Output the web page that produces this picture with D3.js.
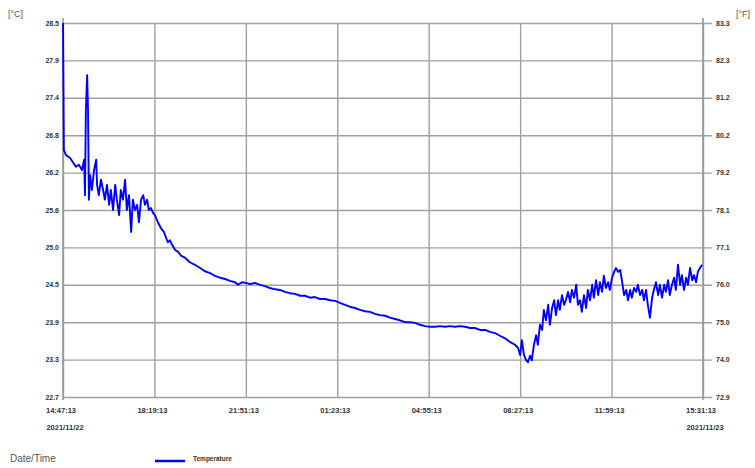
<!DOCTYPE html>
<html>
<head>
<meta charset="utf-8">
<script src="https://cdn.jsdelivr.net/npm/d3@7"></script>
<style>
  body { margin: 0; background: #fff; }
  svg text { font-family: "Liberation Sans", Arial, sans-serif; }
</style>
</head>
<body>
<svg id="chart" width="755" height="468"></svg>
<script>
// minutes since 2021/11/22 14:47:13
var minutes = [0,2,7,16,23,30,37,44,49,51,53,56,58,60,63,67,72,77,79,83,88,93,97,102,107,111,116,121,125,130,134,139,144,148,153,158,162,167,172,176,181,186,190,195,199,204,209,213,220,227,234,239,243,248,253,260,267,274,283,294,306,318,329,341,352,364,376,387,399,406,415,424,434,445,457,468,480,492,503,515,526,538,550,561,573,584,596,608,619,631,642,654,665,677,689,700,712,723,735,747,758,770,781,793,805,816,828,839,851,863,874,886,897,909,921,932,944,955,967,979,990,1002,1013,1025,1037,1048,1055,1060,1064,1069,1074,1078,1083,1087,1092,1097,1101,1106,1111,1115,1120,1125,1129,1134,1139,1143,1148,1152,1157,1162,1166,1171,1176,1180,1185,1190,1194,1199,1203,1208,1213,1217,1222,1227,1231,1236,1241,1245,1250,1254,1259,1264,1268,1273,1278,1282,1287,1292,1296,1301,1306,1310,1315,1319,1324,1329,1333,1338,1343,1347,1352,1356,1361,1366,1370,1375,1380,1384,1389,1394,1398,1403,1407,1412,1417,1421,1426,1431,1435,1440,1445,1449,1454,1459,1463,1468,1472,1477,1482];
var tempC = [28.50,26.53,26.45,26.41,26.34,26.27,26.30,26.22,26.38,25.83,27.15,27.69,27.15,25.76,26.14,25.91,26.22,26.38,25.99,25.83,26.07,25.91,25.76,25.99,25.68,25.91,25.60,25.99,25.76,25.52,25.91,25.76,26.07,25.60,25.83,25.26,25.76,25.60,25.68,25.41,25.76,25.83,25.68,25.76,25.60,25.63,25.55,25.52,25.41,25.32,25.26,25.17,25.10,25.13,25.06,24.98,24.95,24.89,24.86,24.79,24.75,24.70,24.65,24.62,24.58,24.55,24.53,24.50,24.48,24.44,24.48,24.47,24.45,24.47,24.44,24.42,24.39,24.37,24.36,24.33,24.31,24.30,24.27,24.27,24.24,24.25,24.22,24.22,24.20,24.19,24.16,24.13,24.10,24.08,24.05,24.03,24.02,23.99,23.97,23.96,23.93,23.91,23.89,23.86,23.86,23.85,23.82,23.80,23.79,23.79,23.80,23.79,23.80,23.79,23.80,23.79,23.77,23.77,23.74,23.74,23.71,23.69,23.65,23.61,23.55,23.51,23.46,23.35,23.58,23.35,23.27,23.24,23.34,23.27,23.51,23.66,23.51,23.82,23.74,24.05,23.89,24.13,23.82,24.08,24.20,23.97,24.20,24.05,24.28,24.13,24.20,24.33,24.17,24.36,24.24,24.44,24.13,24.20,24.02,24.28,24.08,24.36,24.20,24.44,24.24,24.51,24.28,24.48,24.33,24.58,24.39,24.48,24.36,24.55,24.64,24.70,24.64,24.67,24.51,24.28,24.36,24.20,24.36,24.24,24.39,24.33,24.44,24.28,24.36,24.20,24.36,24.13,23.93,24.24,24.36,24.48,24.28,24.44,24.24,24.44,24.33,24.51,24.28,24.44,24.55,24.36,24.75,24.44,24.59,24.36,24.55,24.44,24.70,24.51,24.59,24.48,24.64,24.70,24.75];

var cTickLabels = ["22.7","23.3","23.9","24.5","25.0","25.6","26.2","26.8","27.4","27.9","28.5"];
var fTickLabels = ["72.9","74.0","75.0","76.0","77.1","78.1","79.2","80.2","81.2","82.3","83.3"];
var timeLabels = ["14:47:13","18:19:13","21:51:13","01:23:13","04:55:13","08:27:13","11:59:13","15:31:13"];
var dateLabels = ["2021/11/22","2021/11/23"];
var seriesName = "Temperature";

var svg = d3.select("#chart"),
    plotL = 63, plotR = 703, plotT = 23, plotB = 397;

var start = new Date(2021, 10, 22, 14, 47, 13);
var end = new Date(start.getTime() + 1484 * 60000);

var x = d3.scaleTime().domain([start, end]).range([plotL, plotR]);
var y = d3.scaleLinear().domain([22.7, 28.5]).range([plotB, plotT]);

var cTicks = cTickLabels.map(function(d, i) { return 22.7 + i * 0.58; });
var tTicks = timeLabels.map(function(d, i) { return new Date(start.getTime() + i * 212 * 60000); });

// horizontal grid, running past the right axis
svg.append("g")
  .attr("transform", "translate(" + plotL + ",0)")
  .call(d3.axisRight(y).tickValues(cTicks).tickSize(712 - plotL).tickFormat(""))
  .call(function(g) { g.select(".domain").remove(); })
  .selectAll("line").attr("stroke", "#a0a0a0").attr("stroke-width", 1.4);

// vertical grid
svg.append("g")
  .attr("transform", "translate(0," + plotT + ")")
  .call(d3.axisBottom(x).tickValues(tTicks).tickSize(plotB - plotT).tickFormat(""))
  .call(function(g) { g.select(".domain").remove(); })
  .selectAll("line").attr("stroke", "#a0a0a0").attr("stroke-width", 1.4);

// axis lines
svg.append("line").attr("x1", plotL).attr("x2", plotL).attr("y1", plotT - 5).attr("y2", plotB + 3)
  .attr("stroke", "#999").attr("stroke-width", 1.6);
svg.append("line").attr("x1", plotR).attr("x2", plotR).attr("y1", plotT - 5).attr("y2", plotB + 3)
  .attr("stroke", "#999").attr("stroke-width", 1.6);

// left labels
svg.append("g").selectAll("text").data(cTickLabels).enter().append("text")
  .attr("x", plotL - 4).attr("y", function(d, i) { return y(cTicks[i]) + 2.5; })
  .attr("text-anchor", "end").attr("font-size", 7).attr("font-weight", "bold").attr("fill", "#333")
  .text(function(d) { return d; });

// right labels
svg.append("g").selectAll("text").data(fTickLabels).enter().append("text")
  .attr("x", 716).attr("y", function(d, i) { return y(cTicks[i]) + 2.5; })
  .attr("font-size", 7).attr("font-weight", "bold").attr("fill", "#333")
  .text(function(d) { return d; });

svg.append("text").attr("x", 8).attr("y", 17).attr("font-size", 9).attr("fill", "#555").text("[°C]");
svg.append("text").attr("x", 736).attr("y", 17).attr("font-size", 9).attr("fill", "#555").text("[°F]");

// time labels
svg.append("g").selectAll("text").data(timeLabels).enter().append("text")
  .attr("x", function(d, i) { return x(tTicks[i]) - 2; }).attr("y", 413)
  .attr("text-anchor", "middle").attr("font-size", 7.5).attr("font-weight", "bold").attr("fill", "#333")
  .text(function(d) { return d; });

svg.append("text").attr("x", plotL + 2).attr("y", 430).attr("text-anchor", "middle")
  .attr("font-size", 7.5).attr("font-weight", "bold").attr("fill", "#333").text(dateLabels[0]);
svg.append("text").attr("x", plotR + 2).attr("y", 430).attr("text-anchor", "middle")
  .attr("font-size", 7.5).attr("font-weight", "bold").attr("fill", "#333").text(dateLabels[1]);

// data line
var data = minutes.map(function(m, i) { return { t: new Date(start.getTime() + m * 60000), v: tempC[i] }; });
var line = d3.line()
  .x(function(d) { return x(d.t); })
  .y(function(d) { return y(d.v); });

svg.append("path").datum(data)
  .attr("fill", "none").attr("stroke", "#0000ff").attr("stroke-width", 1.9)
  .attr("stroke-linejoin", "round")
  .attr("d", line);

// footer
svg.append("text").attr("x", 10).attr("y", 462).attr("font-size", 10).attr("fill", "#555").text("Date/Time");
svg.append("line").attr("x1", 155).attr("x2", 185).attr("y1", 461).attr("y2", 461)
  .attr("stroke", "#0000ff").attr("stroke-width", 2.5);
svg.append("text").attr("x", 193).attr("y", 461).attr("font-size", 6.5).attr("font-weight", "bold")
  .attr("fill", "#333").text(seriesName);
</script>
</body>
</html>
